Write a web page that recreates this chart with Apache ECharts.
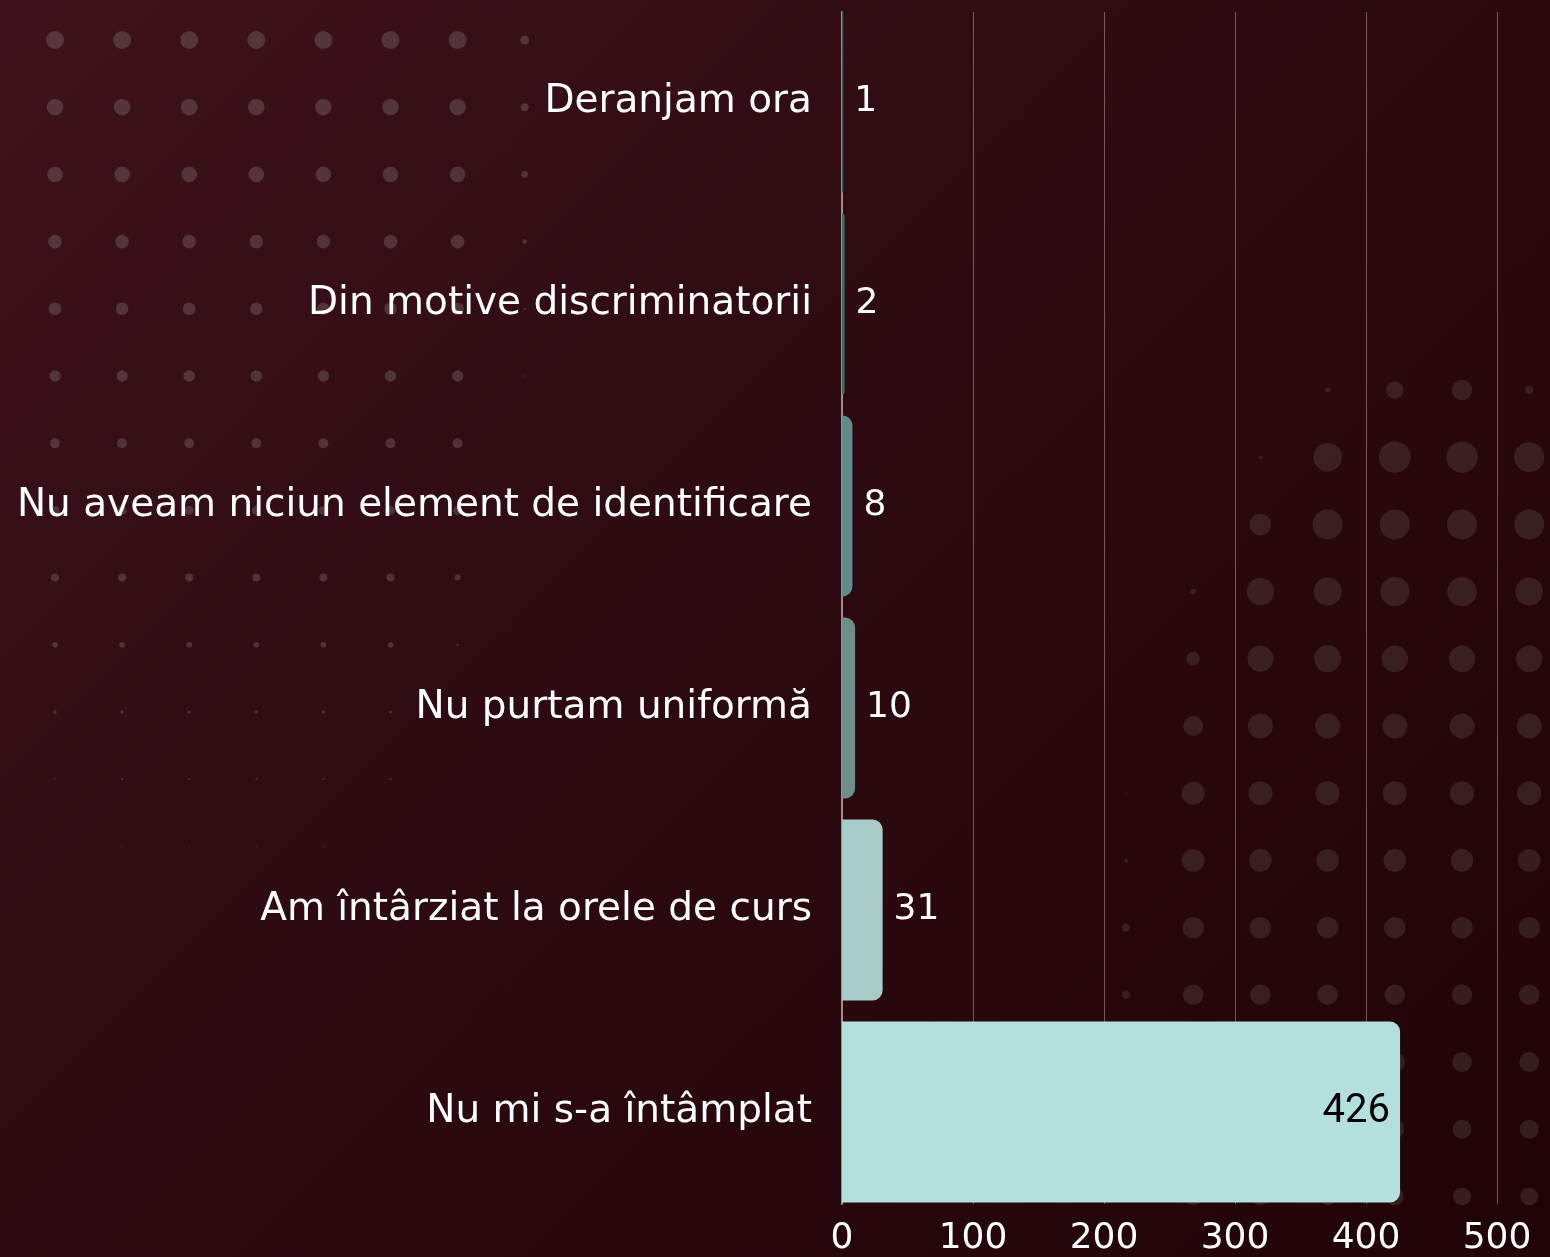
<!DOCTYPE html>
<html>
<head>
<meta charset="utf-8">
<script src="https://cdn.jsdelivr.net/npm/echarts@6/dist/echarts.min.js"></script>
<style>
  html, body { margin: 0; padding: 0; }
  #chart {
    width: 1550px; height: 1257px;
    background: linear-gradient(135deg, #3e121c 0%, #2d0a11 45%, #200307 100%);
  }
</style>
</head>
<body>
<div id="chart"></div>
<script>
// Categories (top to bottom) and response counts
const categories = [
  'Deranjam ora',
  'Din motive discriminatorii',
  'Nu aveam niciun element de identificare',
  'Nu purtam uniformă',
  'Am întârziat la orele de curs',
  'Nu mi s-a întâmplat'
];
const counts = [1, 2, 8, 10, 31, 426];
const barColors = ['#2f5a58', '#3f6b67', '#5f8b89', '#6f8e8a', '#a7ccc8', '#b3e0dc'];
const xTicks = [0, 100, 200, 300, 400, 500];

// Halftone dot decoration: radius per row/column
const leftDots = [
  [9, 9, 9, 9, 9, 9, 9, 4.5],
  [8.3, 8.3, 8.3, 8.3, 8.3, 8.3, 8.3, 4],
  [7.8, 7.8, 7.8, 7.8, 7.8, 7.8, 7.8, 3.3],
  [6.8, 6.8, 6.8, 6.8, 6.8, 6.8, 6.8, 2.3],
  [6.3, 6.3, 6.3, 6.3, 6.3, 6.3, 6.3, 1.3],
  [5.7, 5.7, 5.7, 5.7, 5.7, 5.7, 5.7, 0.8],
  [5, 5, 5, 5, 5, 5, 5, 0],
  [4.5, 4.5, 4.5, 4.5, 4.5, 4.5, 4.5, 0],
  [4, 4, 4, 4, 4, 4, 3, 0],
  [2.8, 2.8, 2.8, 2.8, 2.8, 2.8, 1.2, 0],
  [1.7, 1.7, 1.7, 1.7, 1.7, 1.5, 0, 0],
  [0.8, 1, 1, 1, 1, 1, 0, 0],
  [0, 0.6, 0.6, 0.6, 0.6, 0, 0, 0]
];
const rightDots = [
  [0, 0, 0, 2.5, 8.7, 10.3, 4],
  [0, 0, 1.7, 14.3, 15.8, 15.7, 15],
  [0, 0, 10.7, 15, 15, 15, 15],
  [0, 2.8, 13.7, 14, 14.7, 14.7, 14],
  [0, 6.7, 13, 13.5, 13.2, 13.2, 13.2],
  [0, 10, 12.5, 12.5, 12.5, 12.5, 12.5],
  [0.7, 11.5, 12, 12, 12, 12, 12],
  [2, 11.3, 11.3, 11.3, 11.3, 11.3, 11.3],
  [4, 10.7, 10.7, 10.7, 10.7, 10.7, 10.7],
  [4.2, 10.3, 10.3, 10.3, 10.3, 10.3, 10.3],
  [4.5, 10, 10, 10, 10, 10, 10],
  [4.5, 9.5, 9.5, 9.5, 9.5, 9.5, 9.5],
  [4.5, 9, 9, 9, 9, 9, 9]
];

function dotGrid(matrix, x0, y0, step, fill) {
  const out = [];
  matrix.forEach((row, j) => {
    row.forEach((r, i) => {
      if (r > 0) {
        out.push({
          type: 'circle', silent: true, z: -10,
          shape: { cx: x0 + i * step, cy: y0 + j * 67.2, r: r },
          style: { fill: fill }
        });
      }
    });
  });
  return out;
}

const FONT = '"DejaVu Sans", "Noto Sans", sans-serif';

const chart = echarts.init(document.getElementById('chart'), null, { renderer: 'canvas' });

chart.setOption({
  backgroundColor: 'transparent',
  animation: false,
  graphic: [].concat(
    dotGrid(leftDots, 55, 40, 67.1, 'rgba(150,138,142,0.30)'),
    dotGrid(rightDots, 1126, 390, 67.2, 'rgba(120,108,110,0.24)')
  ),
  grid: [
    { left: 842, right: 53, top: 1, bottom: 44 },
    { left: 842, right: 53, top: 12, bottom: 52 }
  ],
  xAxis: [
    {
      gridIndex: 0, type: 'value', min: 0, max: 500, interval: 100,
      axisLine: { show: false }, axisTick: { show: false },
      axisLabel: { show: false }, splitLine: { show: false }
    },
    {
      gridIndex: 1, type: 'value', min: xTicks[0], max: xTicks[xTicks.length - 1], interval: 100,
      axisLine: { show: false }, axisTick: { show: false },
      splitLine: { show: true, lineStyle: { color: 'rgba(190,150,160,0.55)', width: 1 } },
      axisLabel: {
        color: '#ffffff', fontFamily: FONT, fontSize: 36, margin: 17,
        customValues: xTicks
      }
    }
  ],
  yAxis: [
    {
      gridIndex: 0, type: 'category', data: categories, inverse: true,
      axisLine: { show: false }, axisTick: { show: false },
      axisLabel: { color: '#ffffff', fontFamily: FONT, fontSize: 39, margin: 30 }
    },
    {
      gridIndex: 1, type: 'category', data: categories, inverse: true,
      axisLine: { show: true, lineStyle: { color: '#a48b92', width: 2 } },
      axisTick: { show: false }, axisLabel: { show: false }
    }
  ],
  series: [{
    type: 'bar',
    xAxisIndex: 0, yAxisIndex: 0,
    barWidth: 181,
    z: 5,
    data: counts.map((v, i) => ({
      value: v,
      itemStyle: { color: barColors[i], borderRadius: [0, 10, 10, 0] },
      label: i === counts.length - 1
        ? { position: 'insideRight', distance: 10, color: '#000000', fontFamily: 'Roboto, "Liberation Sans", sans-serif', fontSize: 40 }
        : { position: 'right', distance: 11, color: '#ffffff', fontFamily: FONT, fontSize: 36 }
    })),
    label: { show: true }
  }]
});
</script>
</body>
</html>
